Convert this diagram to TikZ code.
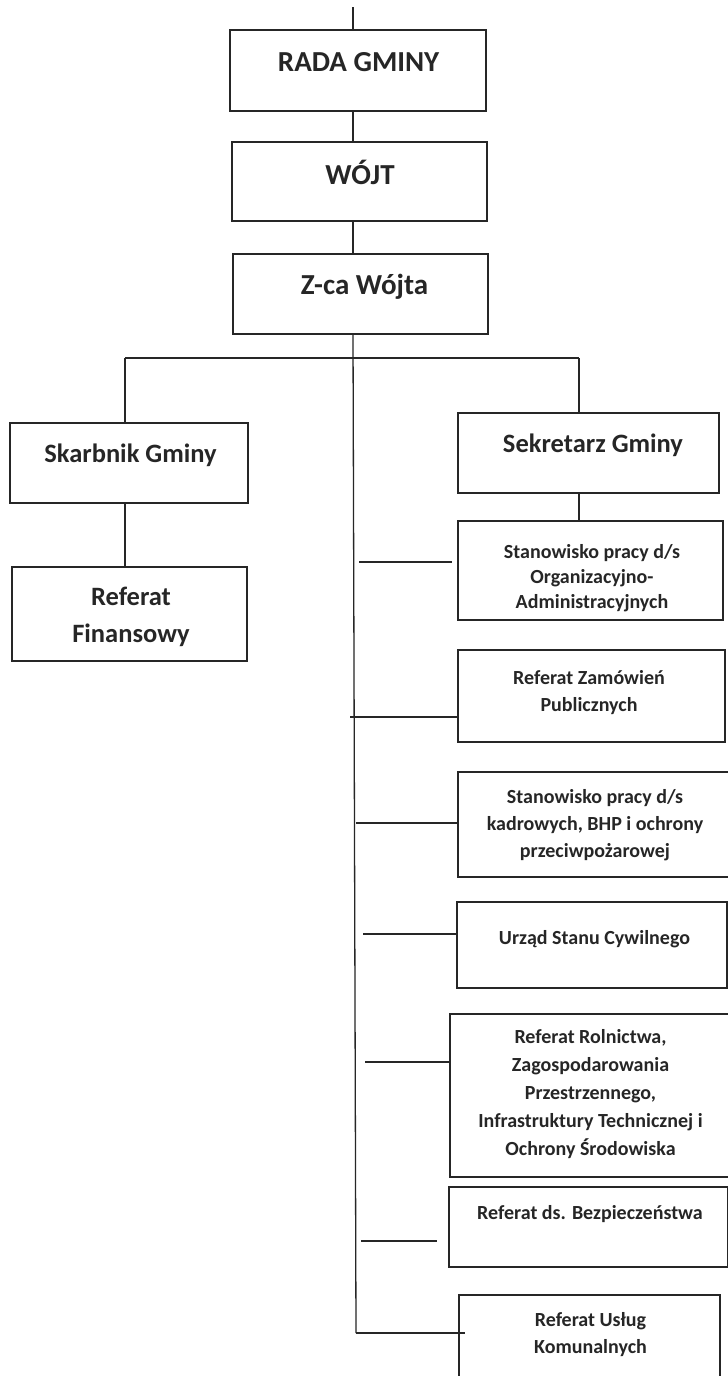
\documentclass[tikz,border=0pt]{standalone}
\usepackage{fontspec}
\setmainfont{Carlito}
\newcommand\mkbox[5]{\node[box, minimum width=#4pt, minimum height=#5pt] (#1) at (#2,#3) {};}
\begin{document}
\begin{tikzpicture}[x=1pt,y=-1pt,
  box/.style={draw=black!85, line width=1.4pt, rectangle, inner sep=0pt},
  big/.style={font=\bfseries\fontsize{29}{35}\selectfont, text=black!85, align=center, inner sep=0pt},
  mid/.style={font=\bfseries\fontsize{26.5}{37}\selectfont, text=black!85, align=center, inner sep=0pt},
  small/.style={font=\bfseries\fontsize{20}{27}\selectfont, text=black!85, align=center, inner sep=0pt},
  conn/.style={draw=black!85, line width=1.3pt}]
\useasboundingbox (0,0) rectangle (728,1376);
\fill[white] (0,0) rectangle (728,1376);
% boxes
\mkbox{rada}{358}{70.5}{256}{81}
\mkbox{wojt}{359.5}{181.5}{255}{79}
\mkbox{zca}{360.5}{294}{255}{80}
\mkbox{skarb}{129}{463}{238}{80}
\mkbox{sekr}{588.5}{453}{261}{80}
\mkbox{fin}{129.5}{614}{235}{94}
\mkbox{org}{590.5}{570.5}{265}{99}
\mkbox{zam}{591.5}{696}{267}{92}
\mkbox{kadr}{599}{824.5}{282}{105}
\mkbox{usc}{592}{945}{270}{86}
\mkbox{roln}{595}{1095.5}{290}{163}
\mkbox{bezp}{588.5}{1227}{279}{80}
\mkbox{uslug}{589.5}{1342.5}{261}{95}
% texts
\node[big] (radaT) at (358.6,62) {RADA GMINY};
\node[big] (wojtT) at (360,172) {WÓJT};
\node[big] (zcaT) at (364.5,287) {Z-ca Wójta};
\node[mid] (skarbT) at (130.5,455) {Skarbnik Gminy};
\node[mid] (sekrT) at (593,445) {Sekretarz Gminy};
\node[mid] (finT) at (131,617) {Referat\\Finansowy};
\node[small, font=\bfseries\fontsize{20}{25}\selectfont] (orgT) at (592,578) {Stanowisko pracy d/s\\Organizacyjno-\\Administracyjnych};
\node[small] (zamT) at (589,693) {Referat Zamówień\\Publicznych};
\node[small] (kadrT) at (595,825) {Stanowisko pracy d/s\\kadrowych, BHP i ochrony\\przeciwpożarowej};
\node[small] (uscT) at (594.5,939) {Urząd Stanu Cywilnego};
\node[small, font=\bfseries\fontsize{20}{28}\selectfont] (rolnT) at (590.5,1094) {Referat Rolnictwa,\\Zagospodarowania\\Przestrzennego,\\Infrastruktury Technicznej i\\Ochrony Środowiska};
\node[small] (bezpT) at (590,1214) {Referat ds. Bezpieczeństwa};
\node[small] (uslugT) at (590.5,1335) {Referat Usług\\Komunalnych};
% connectors
\coordinate (top) at (353,7);
\draw[conn] (top) -- (top |- rada.north);
\draw[conn] (rada.south -| top) -- (wojt.north -| top);
\draw[conn] (wojt.south -| top) -- (zca.north -| top);
\coordinate (brL) at (125,358);
\coordinate (brR) at (579,358);
\draw[conn] (brL) -- (brR);
\draw[conn] (brL) -- (brL |- skarb.north);
\draw[conn] (brR) -- (brR |- sekr.north);
\draw[conn] (skarb.south -| brL) -- (fin.north -| brL);
\draw[conn] (sekr.south -| brR) -- (org.north -| brR);
\coordinate (cbot) at (356,1333);
\draw[conn] (zca.south -| top) -- (cbot);
% stubs
\coordinate (s1) at (359,562); \coordinate (s1e) at (452,562);
\draw[conn] (s1) -- (s1e);
\coordinate (s2) at (350,717);
\draw[conn] (s2) -- (s2 -| zam.west);
\coordinate (s3) at (356,823);
\draw[conn] (s3) -- (s3 -| kadr.west);
\coordinate (s4) at (363,934);
\draw[conn] (s4) -- (s4 -| usc.west);
\coordinate (s5) at (365,1062);
\draw[conn] (s5) -- (s5 -| roln.west);
\coordinate (s6) at (361,1241); \coordinate (s6e) at (437,1241);
\draw[conn] (s6) -- (s6e);
\coordinate (s7e) at (465,1333);
\draw[conn] (cbot) -- (s7e);
\end{tikzpicture}
\end{document}
